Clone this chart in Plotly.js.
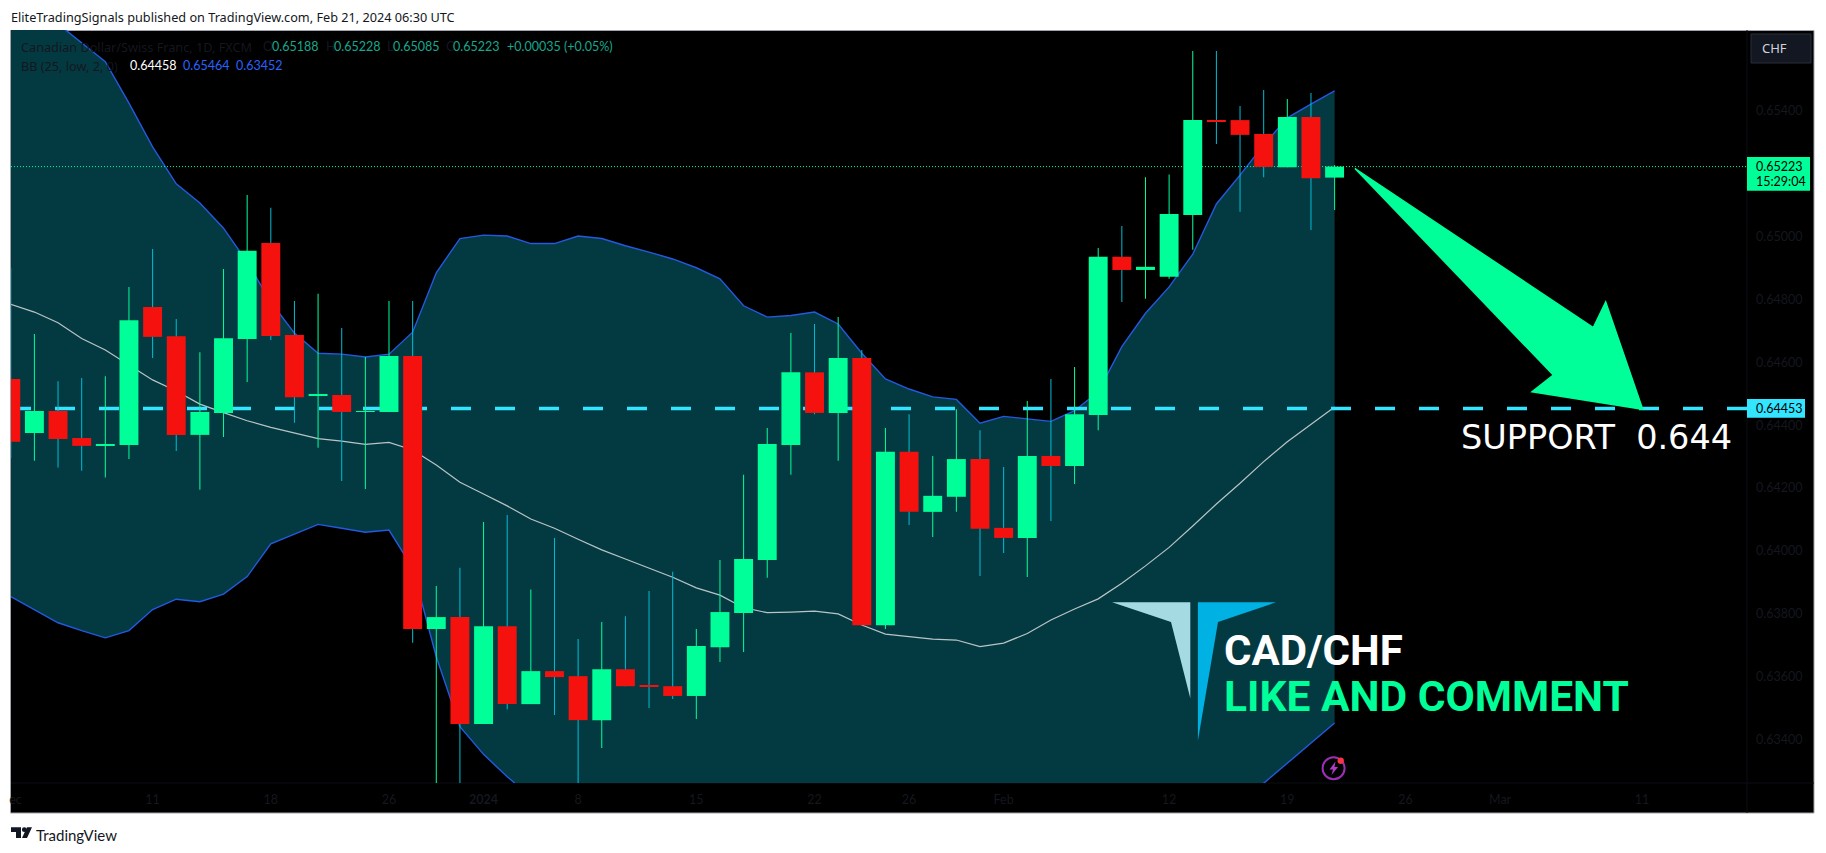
<!DOCTYPE html>
<html>
<head>
<meta charset="utf-8">
<script src="https://cdn.plot.ly/plotly-3.0.1.min.js"></script>
<style>html,body{margin:0;padding:0;background:#fff;overflow:hidden}#chart{width:1826px;height:853px}</style>
</head>
<body>
<div id="chart"></div>
<script>
const open_ = [.64547,.64375,.64445,.64359,.64334,.64337,.64776,.64683,.64369,.64439,.64674,.6498,.64687,.64493,.64496,.64442,.64442,.6462,.63751,.63789,.63449,.6376,.63512,.63617,.63601,.63461,.63623,.63572,.63569,.63538,.63693,.63802,.63971,.64337,.64568,.64439,.64614,.63763,.64315,.64124,.64172,.64292,.64073,.64041,.64302,.6427,.64432,.64936,.64894,.64872,.65069,.65371,.65371,.65327,.65221,.65381,.65188];
const high = [.64901,.6469,.6454,.6455,.64556,.6484,.64961,.64738,.64632,.64897,.65133,.65092,.64795,.64818,.64709,.64617,.64795,.64795,.63888,.63946,.64092,.64114,.63877,.64041,.63719,.63773,.63792,.63872,.63933,.63751,.63971,.64242,.64391,.64693,.64722,.64744,.64639,.64391,.64435,.64302,.64451,.64384,.64267,.64477,.64547,.64585,.64964,.65034,.65189,.65198,.65591,.65591,.65416,.65467,.65438,.65457,.65228];
const low = [.64295,.64287,.64265,.64255,.64233,.64292,.64614,.64318,.64194,.64362,.64537,.64671,.64408,.64328,.64222,.64197,.64442,.63707,.63207,.63239,.63449,.63496,.63512,.63477,.63239,.63372,.63569,.635,.63528,.63465,.63646,.63678,.63914,.64242,.64435,.64287,.63763,.63751,.64082,.64044,.64124,.6392,.63993,.63917,.64095,.64213,.64384,.64792,.64802,.64866,.64958,.65295,.65079,.65189,.65221,.65021,.65085];
const close_ = [.64347,.64445,.64356,.64334,.6434,.64734,.64681,.64369,.64442,.64677,.64955,.64684,.64489,.64496,.64442,.64445,.6462,.63751,.63789,.63449,.6376,.63512,.63617,.63598,.63461,.63623,.63569,.63569,.63538,.63697,.63805,.63974,.6434,.64568,.64439,.64614,.63763,.64315,.64124,.64175,.64292,.6407,.64041,.64302,.6427,.64435,.64936,.64894,.64904,.65072,.65371,.65368,.65324,.65222,.65381,.65186,.65223];
const bbUpper = [.65785,.65728,.65677,.65616,.65557,.65425,.65286,.65168,.65107,.65027,.64919,.64792,.64693,.64629,.64626,.64617,.64626,.64696,.64885,.64994,.65005,.65002,.64978,.64978,.65002,.64994,.64971,.64951,.64929,.64901,.64866,.6478,.64744,.64749,.6476,.64722,.64629,.64547,.64515,.6449,.64482,.64406,.64428,.6442,.64412,.64446,.64506,.6465,.64756,.6484,.64944,.65104,.65196,.65292,.65378,.65422,.65464];
const bbMiddle = [.64785,.6476,.64726,.64676,.64639,.64591,.64544,.64509,.64467,.6444,.64414,.64393,.64376,.64357,.64349,.64339,.64345,.64321,.64273,.64218,.64181,.64143,.64101,.64072,.64037,.64003,.63974,.63945,.63916,.63882,.63859,.63819,.63803,.63805,.63808,.63799,.63764,.63735,.63727,.63719,.63716,.63695,.63706,.63737,.6378,.63815,.63847,.63897,.63952,.64011,.64079,.64149,.64215,.64284,.64347,.64403,.64458];
const bbLower = [.63854,.63812,.63771,.63746,.63723,.63746,.63813,.63846,.63838,.63862,.63918,.64022,.64054,.64084,.64072,.64059,.64066,.63945,.63663,.6344,.63352,.63281,.63217,.63165,.63073,.63012,.62978,.62939,.62904,.62863,.62853,.6286,.62863,.62863,.62857,.62876,.62898,.62923,.62939,.62949,.62949,.62984,.62984,.63054,.63146,.63184,.63188,.63143,.63146,.63181,.63213,.63194,.63235,.6326,.63324,.63389,.63452];

const timeTickPos = [0.2,6,11,16,20,24,29,34,38,42,49,54,59,63,69];
const timeTickText = ['ec','11','18','26','<b>2024</b>','8','15','22','26','Feb','12','19','26','Mar','11'];
const priceTicks = [0.654,0.650,0.648,0.646,0.644,0.642,0.640,0.638,0.636,0.634];
const lastPrice = 0.65223;
const supportPrice = 0.64453;

const UP = '#00FF99', DOWN = '#F5120E', WICK_UP = 'rgba(0,255,153,0.99)', WICK_DOWN = 'rgba(0,188,212,0.99)';
const BAND_FILL = '#033A42', BAND_LINE = '#2459E0', MID_LINE = '#B9C4C6';
const DIM = '#14171F', CYAN = '#33E5FF';

const L = 11, R = 1747, T = 30, B = 783;
const px = x => (x - L) / (R - L);
const py = y => (B - y) / (B - T);
const poly = pts => 'M' + pts.map(p => px(p[0]) + ',' + py(p[1])).join('L') + 'Z';

const idx = open_.map((_, i) => i);
const xRange = [(L - 10.76) / 23.64, (R - 10.76) / 23.64];
const yRange = [0.654 - (B - 111) / 31415, 0.654 + (111 - T) / 31415];
const isUp = idx.map(i => close_[i] >= open_[i]);
const skip = {hoverinfo: 'skip', showlegend: false};

const traces = [
  Object.assign({type:'scatter', mode:'lines', x:idx, y:bbUpper, line:{color:BAND_LINE,width:1.4}}, skip),
  Object.assign({type:'scatter', mode:'lines', x:idx, y:bbLower, fill:'tonexty', fillcolor:BAND_FILL, line:{color:BAND_LINE,width:1.4}}, skip),
  Object.assign({type:'scatter', mode:'lines', x:idx, y:bbMiddle, line:{color:MID_LINE,width:1.2}}, skip),
  Object.assign({type:'scatter', mode:'lines', x:[xRange[0],xRange[1]], y:[lastPrice,lastPrice], line:{color:UP,width:1,dash:'1px,2px'}}, skip),
  Object.assign({type:'scatter', mode:'lines', x:[xRange[0],xRange[1]], y:[supportPrice,supportPrice], line:{color:CYAN,width:3.5,dash:'20px,24px'}}, skip),
  Object.assign({type:'bar', xaxis:'x2', yaxis:'y2', x:idx, base:low, y:idx.map(i=>high[i]-low[i]), width:1.02/23.64,
    marker:{color:idx.map(i=>isUp[i]?WICK_UP:WICK_DOWN), line:{width:0}}}, skip),
  Object.assign({type:'bar', xaxis:'x2', yaxis:'y2', x:idx, base:idx.map(i=>Math.min(open_[i],close_[i])),
    y:idx.map(i=>Math.abs(close_[i]-open_[i])), width:0.8,
    marker:{color:idx.map(i=>isUp[i]?UP:DOWN), line:{width:0}}}, skip)
];

const FONT = 'Lato', TEXTFONT = 'Noto Sans';
function note(x, y, text, size, color, anchor, family, weight) {
  return {xref:'paper', yref:'paper', x:px(x), y:py(y), text:text, showarrow:false, xanchor:anchor||'left', yanchor:'middle',
    font:{family:family||FONT, size:size, color:color, weight:weight||'normal'}, borderpad:0, borderwidth:0};
}
const TEAL = '#17A88E', BLUE = '#2962FF';
const annotations = [
  note(11, 16.7, 'EliteTradingSignals published on TradingView.com, Feb 21, 2024 06:30 UTC', 12.7, '#131722', 'left', TEXTFONT),
  note(20.5, 46.7, 'Canadian Dollar/Swiss Franc, 1D, FXCM', 12.7, DIM, 'left', TEXTFONT),
  note(263, 46.7, 'O', 12.5, DIM), note(272, 46.7, '0.65188', 12.5, TEAL),
  note(326, 46.7, 'H', 12.5, DIM), note(333.5, 46.7, '0.65228', 12.5, TEAL),
  note(386.6, 46.7, 'L', 12.5, DIM), note(393, 46.7, '0.65085', 12.5, TEAL),
  note(446, 46.7, 'C', 12.5, DIM), note(453, 46.7, '0.65223', 12.5, TEAL),
  note(506.7, 46.7, '+0.00035 (+0.05%)', 12.5, TEAL),
  note(20.5, 65.7, 'BB (25, low, 2, 0)', 12.7, DIM, 'left', TEXTFONT),
  note(129.5, 65.7, '0.64458', 12.5, '#FFFFFF'),
  note(182.6, 65.7, '0.65464', 12.5, BLUE),
  note(235.7, 65.7, '0.63452', 12.5, BLUE),
  note(1761.7, 48.5, 'CHF', 13, '#D1D4DC', 'left', TEXTFONT),
  note(1755.7, 166.5, '0.65223', 12.5, '#000000'),
  note(1755.7, 181.5, '15:29:04', 12.5, '#000000'),
  note(1755.7, 408.5, '0.64453', 12.5, '#000000'),
  note(1461, 437, 'SUPPORT&nbsp;&nbsp;0.644', 33.5, '#FFFFFF', 'left', 'DejaVu Sans'),
  note(1224, 650, 'CAD/CHF', 42, '#FFFFFF', 'left', 'Roboto', 'bold'),
  note(1224, 696.5, 'LIKE AND COMMENT', 42.5, UP, 'left', 'Roboto', 'bold'),
  note(35.5, 834.5, 'TradingView', 15, '#131722')
];

function fillShape(path, color) {
  return {type:'path', xref:'paper', yref:'paper', path:path, fillcolor:color, line:{width:0}, layer:'above'};
}
function box(x0, y0, x1, y1, fill, layer, line) {
  return {type:'rect', xref:'paper', yref:'paper', x0:px(x0), x1:px(x1), y0:py(y1), y1:py(y0), fillcolor:fill,
    line:line||{width:0}, layer:layer||'above'};
}
function seg(x0, y0, x1, y1, color) {
  return {type:'line', xref:'paper', yref:'paper', x0:px(x0), x1:px(x1), y0:py(y0), y1:py(y1), line:{color:color,width:1}, layer:'below'};
}
function oval(cx, cy, rx, ry, fill, line) {
  return {type:'circle', xref:'paper', yref:'paper', x0:px(cx-rx), x1:px(cx+rx), y0:py(cy+ry), y1:py(cy-ry), fillcolor:fill, line:line||{width:0}, layer:'above'};
}
const shapes = [
  box(10.5, 30.5, 1814, 813, '#000000', 'below', {color:'#A0A3AB', width:1}),
  seg(1747, 30, 1747, 813, '#0C0E14'),
  seg(11, 783, 1814, 783, '#0C0E14'),
  {type:'path', xref:'paper', yref:'paper', path:poly([[1355,168.5],[1593.3,327.7],[1605.7,302],[1642.7,409.3],[1532,391.7],[1553.3,375]]),
    fillcolor:UP, line:{color:UP,width:1.5}, layer:'above'},
  fillShape(poly([[1112.1,602.3],[1190.3,602.3],[1190.3,698.3],[1171,622]]), '#A5DAE3'),
  fillShape(poly([[1197.9,602.3],[1276,602.3],[1218,622],[1197.9,740.7]]), '#00B2E3'),
  oval(1333.6, 768.3, 11, 11, 'rgba(0,0,0,0)', {color:'#9C2FB5', width:2}),
  fillShape(poly([[1335.5,761.5],[1329.5,769.5],[1333,769.5],[1331.5,775],[1338,767],[1334.5,767]]), '#B03CC8'),
  oval(1340.7, 760.7, 3.2, 3.2, '#F23645'),
  box(1747, 157, 1810, 190.7, UP),
  box(1747, 399, 1805, 417.7, CYAN),
  box(1751, 34, 1811, 63, '#131722', 'above', {color:'#2A2E39', width:1}),
  fillShape(poly([[11,827.3],[21,827.3],[21,838],[16,838],[16,832],[11,832]]), '#131722'),
  oval(24.3, 829.7, 2.4, 2.4, '#131722'),
  fillShape(poly([[27,827.3],[32,827.3],[27,838],[22,838]]), '#131722')
];

const layout = {
  width:1826, height:853, autosize:false,
  margin:{l:L, r:1826-R, t:T, b:853-B, pad:0},
  paper_bgcolor:'#FFFFFF', plot_bgcolor:'#000000',
  barmode:'overlay', showlegend:false, hovermode:false, dragmode:false,
  xaxis:{range:xRange, type:'linear', tickmode:'array', tickvals:timeTickPos, ticktext:timeTickText, ticks:'', ticklen:0,
    showgrid:false, zeroline:false, showline:false, ticklabelstandoff:7, tickangle:0, fixedrange:true,
    tickfont:{family:FONT, size:12.5, color:DIM}},
  yaxis:{range:yRange, type:'linear', side:'right', tickmode:'array', tickvals:priceTicks, tickformat:'.5f', ticks:'', ticklen:0,
    showgrid:false, zeroline:false, showline:false, ticklabelstandoff:8, fixedrange:true,
    tickfont:{family:FONT, size:12.5, color:DIM}},
  xaxis2:{range:xRange, type:'linear', overlaying:'x', visible:false, fixedrange:true},
  yaxis2:{range:yRange, type:'linear', overlaying:'y', side:'right', visible:false, fixedrange:true},
  shapes:shapes, annotations:annotations
};
Plotly.newPlot('chart', traces, layout, {displayModeBar:false, responsive:false});
</script>
</body>
</html>
